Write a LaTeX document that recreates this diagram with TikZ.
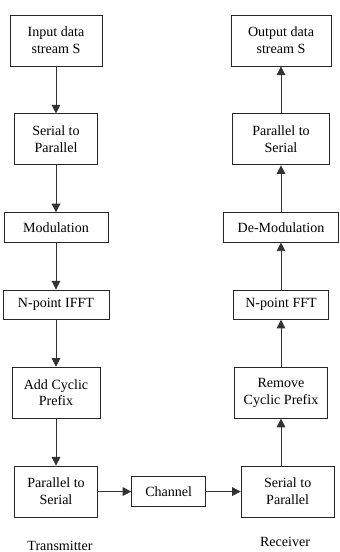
\documentclass[tikz,border=0pt]{standalone}
\usepackage{fontspec}
\setmainfont{Liberation Serif}
\usetikzlibrary{arrows.meta, positioning}

\begin{document}
\begin{tikzpicture}[
  node distance=1.41cm and 1cm,
  every node/.style={align=center, font=\fontsize{12pt}{14.5pt}\selectfont},
  twoline/.style={draw=black!85, line width=0.75pt, rectangle, minimum height=1.53cm, inner sep=1pt},
  oneline/.style={draw=black!85, line width=0.75pt, rectangle, minimum height=0.88cm, inner sep=1pt},
  arrow/.style={-{Triangle[length=2.6mm, width=2.6mm]}, draw=black!80, line width=0.8pt}
]

\useasboundingbox (0,0) rectangle (10.2,-16.56);

% Transmitter
\node[twoline, minimum width=2.76cm] (input) at (1.68,-1.215) {Input data\\stream S};
\node[twoline, minimum width=2.49cm] (stop_tx) [below=of input] {Serial to\\Parallel};
\node[oneline, minimum width=3.12cm] (modulation) [below=of stop_tx] {Modulation};
\node[oneline, minimum width=3.18cm] (ifft) [below=of modulation] {N-point IFFT};
\node[twoline, minimum width=2.64cm] (add_cp) [below=of ifft] {Add Cyclic\\Prefix};
\node[twoline, minimum width=2.49cm] (ptos_tx) [below=of add_cp] {Parallel to\\Serial};

% Channel
\node[oneline, minimum width=2.22cm] (channel) [right=of ptos_tx] {Channel};

% Receiver
\node[twoline, minimum width=3.0cm] (output) at (8.43,-1.215) {Output data\\stream S};
\node[twoline, minimum width=2.91cm] (ptos_rx) [below=of output] {Parallel to\\Serial};
\node[oneline, minimum width=3.45cm] (demodulation) [below=of ptos_rx] {De-Modulation};
\node[oneline, minimum width=2.85cm] (fft) [below=of demodulation] {N-point FFT};
\node[twoline, minimum width=2.79cm] (remove_cp) [below=of fft] {Remove\\Cyclic Prefix};
\node[twoline, minimum width=2.79cm] (stop_rx) [below=of remove_cp, xshift=0.2cm] {Serial to\\Parallel};

% Labels
\node (tx_label) at (1.8,-16.38) {Transmitter};
\node (rx_label) at (8.55,-16.26) {Receiver};

% Arrows
\draw[arrow] (input) -- (stop_tx);
\draw[arrow] (stop_tx) -- (modulation);
\draw[arrow] (modulation) -- (ifft);
\draw[arrow] (ifft) -- (add_cp);
\draw[arrow] (add_cp) -- (ptos_tx);
\draw[arrow] (ptos_tx) -- (channel);
\draw[arrow] (channel) -- (stop_rx.west |- channel);
\draw[arrow] (stop_rx.north -| remove_cp) -- (remove_cp);
\draw[arrow] (remove_cp) -- (fft);
\draw[arrow] (fft) -- (demodulation);
\draw[arrow] (demodulation) -- (ptos_rx);
\draw[arrow] (ptos_rx) -- (output);

\end{tikzpicture}
\end{document}
